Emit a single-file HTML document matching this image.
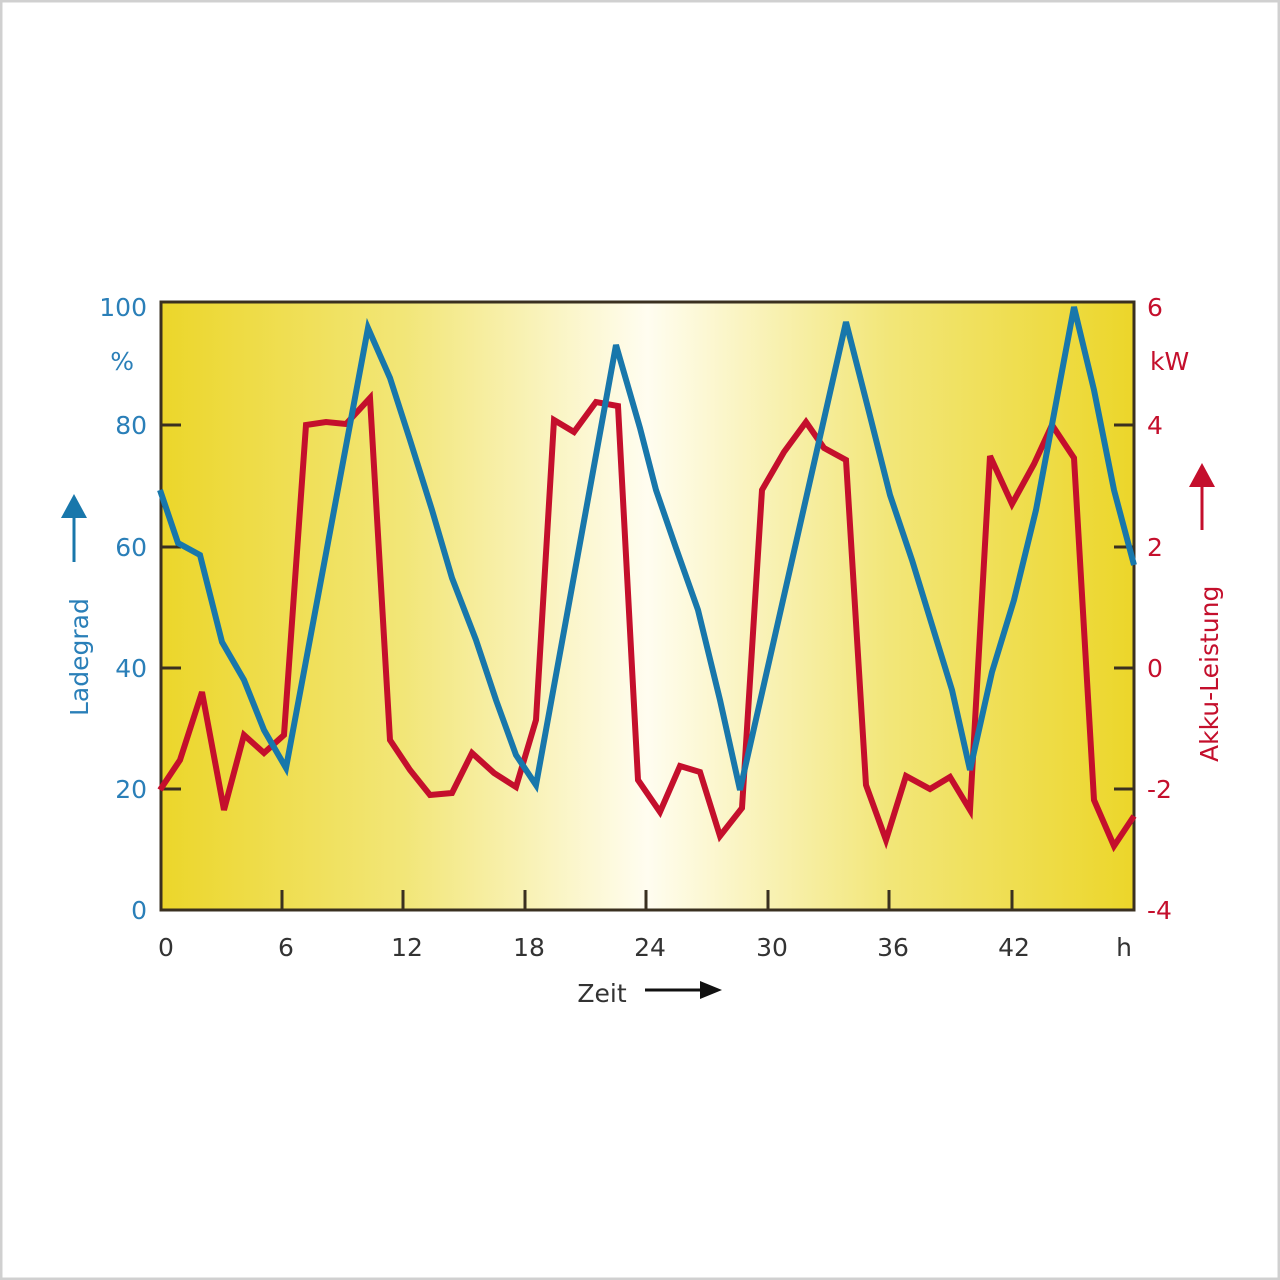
<!DOCTYPE html>
<html><head><meta charset="utf-8"><style>
html,body{margin:0;padding:0;background:#fff;}
svg{display:block;font-family:"DejaVu Sans","Liberation Sans",sans-serif;}
</style></head><body>
<svg width="1280" height="1280" viewBox="0 0 1280 1280">
<defs>
<linearGradient id="g" x1="0" x2="1" y1="0" y2="0">
<stop offset="0" stop-color="#ecd62a"/>
<stop offset="0.25" stop-color="#f2e678"/>
<stop offset="0.5" stop-color="#fffdf0"/>
<stop offset="0.75" stop-color="#f2e678"/>
<stop offset="1" stop-color="#ecd62a"/>
</linearGradient>
</defs>
<rect x="1" y="1" width="1278" height="1278" fill="#fff" stroke="#d0d0d0" stroke-width="3"/>
<rect x="161" y="302" width="973" height="608" fill="url(#g)" stroke="#3a3020" stroke-width="3"/>
<g stroke="#3a3020" stroke-width="3">
<line x1="161" y1="425" x2="181" y2="425"/><line x1="161" y1="547" x2="181" y2="547"/>
<line x1="161" y1="668" x2="181" y2="668"/><line x1="161" y1="789" x2="181" y2="789"/>
<line x1="1114" y1="425" x2="1134" y2="425"/><line x1="1114" y1="547" x2="1134" y2="547"/>
<line x1="1114" y1="668" x2="1134" y2="668"/><line x1="1114" y1="789" x2="1134" y2="789"/>
<line x1="282" y1="890" x2="282" y2="910"/><line x1="403" y1="890" x2="403" y2="910"/>
<line x1="525" y1="890" x2="525" y2="910"/><line x1="646" y1="890" x2="646" y2="910"/>
<line x1="768" y1="890" x2="768" y2="910"/><line x1="889" y1="890" x2="889" y2="910"/>
<line x1="1012" y1="890" x2="1012" y2="910"/>
</g>
<polyline fill="none" stroke="#c40f2c" stroke-width="6" stroke-linejoin="miter" points="160,790 180,760 202,692 224,810 244,735 264,753 284,735 306,425 326,422 346,424 370,398 390,740 410,770 430,795 452,793 472,753 494,773 516,787 536,720 554,420 574,432 596,402 618,406 638,780 660,812 680,766 700,772 720,836 742,808 762,490 784,452 806,422 824,448 846,460 866,785 886,840 906,776 930,789 950,777 970,810 990,456 1012,504 1034,464 1052,425 1074,458 1094,800 1114,846 1134,816"/>
<polyline fill="none" stroke="#1877ab" stroke-width="6" stroke-linejoin="miter" points="160,490 178,543 200,555 222,642 244,680 264,730 286,768 368,328 390,378 410,440 432,510 452,578 476,640 496,700 516,755 536,785 616,345 640,428 656,490 676,548 698,610 720,700 740,790 846,322 868,408 890,495 912,560 932,625 952,690 970,770 992,672 1014,600 1036,510 1074,307 1094,390 1114,490 1134,565"/>
<g fill="#2a7fb8" font-size="25" text-anchor="end" font-weight="500">
<text x="147" y="316">100</text><text x="134" y="370">%</text>
<text x="147" y="434">80</text><text x="147" y="556">60</text>
<text x="147" y="677">40</text><text x="147" y="798">20</text><text x="147" y="919">0</text>
</g>
<g fill="#c40f2c" font-size="25" text-anchor="start" font-weight="500">
<text x="1147" y="316">6</text><text x="1150" y="370">kW</text>
<text x="1147" y="434">4</text><text x="1147" y="556">2</text>
<text x="1147" y="677">0</text><text x="1147" y="798">-2</text><text x="1147" y="919">-4</text>
</g>
<g fill="#333" font-size="25" text-anchor="middle" font-weight="500">
<text x="166" y="956">0</text><text x="286" y="956">6</text><text x="407" y="956">12</text>
<text x="529" y="956">18</text><text x="650" y="956">24</text><text x="772" y="956">30</text>
<text x="893" y="956">36</text><text x="1014" y="956">42</text><text x="1124" y="956">h</text>
<text x="602" y="1002">Zeit</text>
</g>
<line x1="645" y1="990" x2="702" y2="990" stroke="#111" stroke-width="3"/>
<polygon points="722,990 700,981 700,999" fill="#111"/>
<text transform="translate(88,716) rotate(-90)" fill="#2a7fb8" font-size="25" font-weight="500">Ladegrad</text>
<line x1="74" y1="517" x2="74" y2="562" stroke="#1877ab" stroke-width="3"/>
<polygon points="74,494 61,518 87,518" fill="#1877ab"/>
<text transform="translate(1218,762) rotate(-90)" fill="#c40f2c" font-size="25" font-weight="500">Akku-Leistung</text>
<line x1="1202" y1="485" x2="1202" y2="530" stroke="#c40f2c" stroke-width="3"/>
<polygon points="1202,463 1189,487 1215,487" fill="#c40f2c"/>
</svg>
</body></html>
